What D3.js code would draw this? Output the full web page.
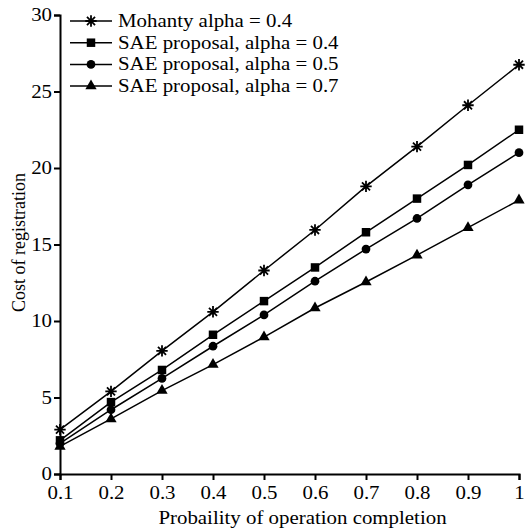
<!DOCTYPE html>
<html>
<head>
<meta charset="utf-8">
<script src="https://cdn.jsdelivr.net/npm/d3@7"></script>
<style>
body { margin: 0; background: #fff; }
</style>
</head>
<body>
<div id="vis"></div>
<script>
// data
var probs = [0.1, 0.2, 0.3, 0.4, 0.5, 0.6, 0.7, 0.8, 0.9, 1.0];
var mohanty04 = [2.9, 5.4, 8.05, 10.6, 13.3, 15.95, 18.8, 21.4, 24.1, 26.75];
var sae04 = [2.2, 4.7, 6.8, 9.1, 11.3, 13.5, 15.8, 18.0, 20.2, 22.5];
var sae05 = [2.0, 4.2, 6.25, 8.35, 10.4, 12.6, 14.7, 16.7, 18.9, 21.0];
var sae07 = [1.8, 3.6, 5.45, 7.15, 8.95, 10.85, 12.55, 14.3, 16.1, 17.9];
var seriesNames = ["Mohanty alpha = 0.4", "SAE proposal, alpha = 0.4",
                   "SAE proposal, alpha = 0.5", "SAE proposal, alpha = 0.7"];
var xTicks = [0.1, 0.2, 0.3, 0.4, 0.5, 0.6, 0.7, 0.8, 0.9, 1];
var yTicks = [0, 5, 10, 15, 20, 25, 30];

// 8 armed star, like the one in the original plot
var star8 = {
    draw: function (context, size) {
        var r = Math.sqrt(size) / 2;
        for (var k = 0; k < 4; k++) {
            var a = k * Math.PI / 4;
            context.moveTo(r * Math.cos(a), r * Math.sin(a));
            context.lineTo(-r * Math.cos(a), -r * Math.sin(a));
        }
    }
};

var series = [
    {name: seriesNames[0], values: mohanty04, symbol: star8, size: 130},
    {name: seriesNames[1], values: sae04, symbol: d3.symbolSquare, size: 72},
    {name: seriesNames[2], values: sae05, symbol: d3.symbolCircle, size: 60},
    {name: seriesNames[3], values: sae07, symbol: d3.symbolTriangle, size: 55}
];

var W = 527, H = 532;
var margin = {top: 15, right: 8, bottom: 58, left: 60};
var font = "'Liberation Serif', 'Times New Roman', serif";
var stretch = 1.16; // the original picture is a bit wider than tall

var svg = d3.select("#vis").append("svg")
    .attr("width", W)
    .attr("height", H)
    .style("font-family", font);

var x = d3.scaleLinear()
    .domain([0.1, 1])
    .range([margin.left, W - margin.right]);

var y = d3.scaleLinear()
    .domain([0, 30])
    .range([H - margin.bottom, margin.top]);

////////// axes //////////

var xAxis = svg.append("g")
    .attr("transform", "translate(0," + y(0) + ")")
    .call(d3.axisBottom(x).tickValues(xTicks).tickSize(6).tickPadding(6)
        .tickFormat(function (d) { return d === 1 ? "1" : d3.format(".1f")(d); }));

var yAxis = svg.append("g")
    .attr("transform", "translate(" + x(0.1) + ",0)")
    .call(d3.axisLeft(y).tickValues(yTicks).tickSize(6).tickPadding(2));

[xAxis, yAxis].forEach(function (ax) {
    ax.attr("font-family", null).attr("font-size", null);
    ax.select(".domain").attr("stroke", "#000").attr("stroke-width", 2);
    ax.selectAll(".tick line").attr("stroke", "#000").attr("stroke-width", 2);
    ax.selectAll(".tick text")
        .style("font-family", font)
        .style("font-size", "18px")
        .attr("fill", "#000")
        .classed("wide", true);
});

svg.append("text")
    .attr("class", "wide")
    .attr("x", (x(0.1) + x(1)) / 2 + 13)
    .attr("y", H - 8)
    .attr("text-anchor", "middle")
    .style("font-size", "18px")
    .text("Probaility of operation completion");

svg.append("text")
    .attr("transform", "translate(25," + ((y(0) + y(30)) / 2 - 2) + ") rotate(-90)")
    .attr("text-anchor", "middle")
    .style("font-size", "18px")
    .text("Cost of registration");

////////// lines //////////

var line = d3.line()
    .x(function (d, i) { return x(probs[i]); })
    .y(function (d) { return y(d); });

function markStyle(sel, s) {
    sel.attr("d", d3.symbol().type(s.symbol).size(s.size))
        .attr("fill", s.symbol === star8 ? "none" : "#000")
        .attr("stroke", "#000")
        .attr("stroke-width", s.symbol === star8 ? 1.8 : 0);
}

series.forEach(function (s) {
    svg.append("path")
        .datum(s.values)
        .attr("fill", "none")
        .attr("stroke", "#000")
        .attr("stroke-width", 1.5)
        .attr("d", line);

    svg.selectAll(null)
        .data(s.values)
        .enter()
        .append("path")
        .attr("transform", function (d, i) { return "translate(" + x(probs[i]) + "," + y(d) + ")"; })
        .call(markStyle, s);
});

////////// legend //////////

var legend = svg.append("g")
    .attr("transform", "translate(70,21)");

series.forEach(function (s, i) {
    var row = legend.append("g").attr("transform", "translate(0," + (i * 21.7) + ")");
    row.append("line")
        .attr("x1", 0).attr("x2", 42)
        .attr("stroke", "#000").attr("stroke-width", 1.5);
    row.append("path")
        .attr("transform", "translate(21,0)")
        .call(markStyle, s);
    row.append("text")
        .attr("class", "wide")
        .attr("x", 48)
        .attr("dy", "0.33em")
        .style("font-size", "18px")
        .text(s.name);
});

// widen the text the same way as the original
svg.selectAll("text.wide").each(function () {
    var w = this.getComputedTextLength();
    this.setAttribute("textLength", w * stretch);
    this.setAttribute("lengthAdjust", "spacingAndGlyphs");
});
</script>
</body>
</html>
